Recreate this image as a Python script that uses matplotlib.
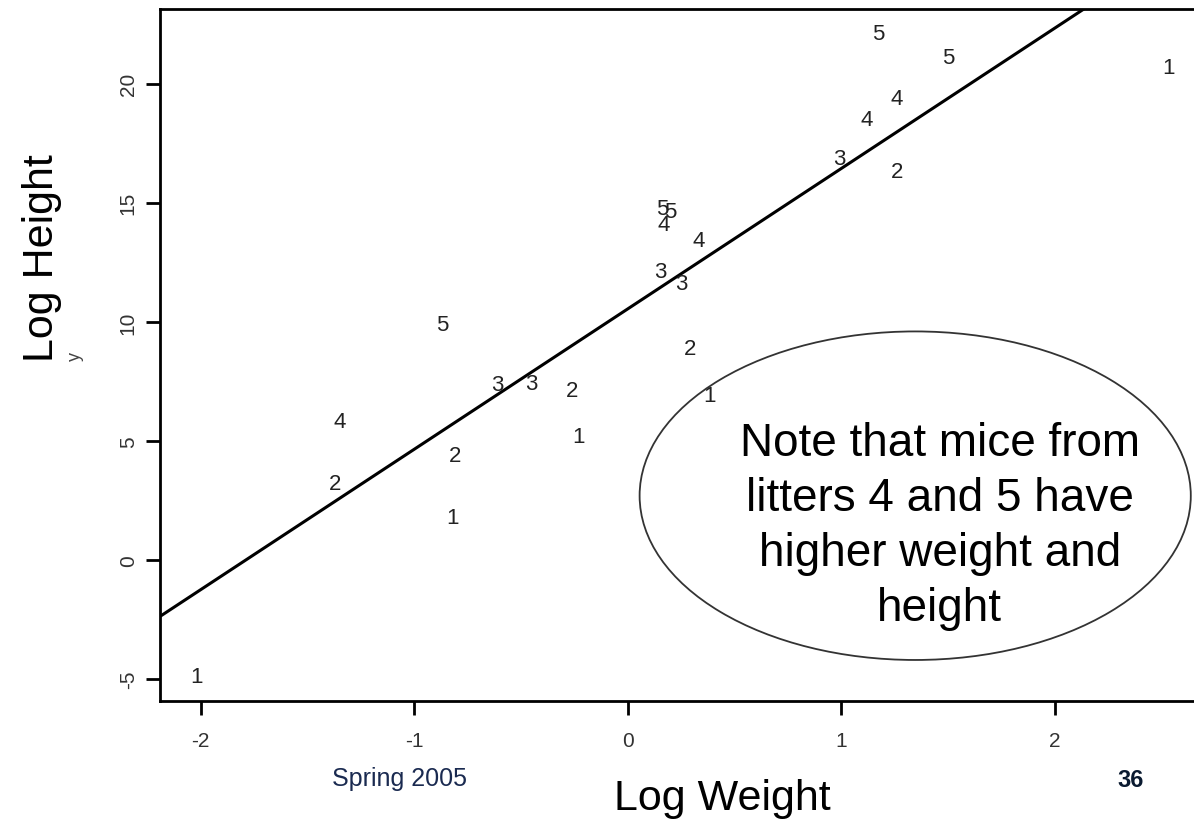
import matplotlib
matplotlib.use("Agg")
from matplotlib import pyplot as plt
from matplotlib.patches import Ellipse
import numpy as np

"""
Log height vs log weight of mice, points labelled by litter number,
with the overall fitted line and a note in an ellipse.
"""

# Points: litter label, log weight, log height
litter = ["1", "1", "2", "2", "4", "5", "3", "3", "2", "1",
          "2", "1", "3", "3", "4", "5", "5", "4",
          "3", "4", "4", "2", "5", "5", "1"]
log_weight = [-2.02, -0.82, -0.81, -1.37, -1.35, -0.87, -0.61, -0.45, -0.26, -0.23,
              0.29, 0.38, 0.15, 0.25, 0.33, 0.16, 0.20, 0.17,
              0.99, 1.12, 1.26, 1.26, 1.17, 1.50, 2.53]
log_height = [-4.9, 1.8, 4.4, 3.2, 5.8, 9.9, 7.35, 7.4, 7.1, 5.2,
              8.9, 6.9, 12.1, 11.6, 13.4, 14.75, 14.65, 14.1,
              16.85, 18.5, 19.4, 16.3, 22.1, 21.1, 20.7]

# fitted line
fit_intercept = 10.55
fit_slope = 5.9

x_ticks = [-2, -1, 0, 1, 2]
y_ticks = [-5, 0, 5, 10, 15, 20]

note = "Note that mice from\nlitters 4 and 5 have\nhigher weight and\nheight"


def main():
    plt.rcParams['font.family'] = ['Liberation Sans', 'DejaVu Sans']
    plt.rcParams['axes.unicode_minus'] = False

    fig = plt.figure(figsize=(11.94, 8.2), dpi=100)
    ax = fig.add_axes([0.134, 0.144, 0.866, 0.844])

    # litter numbers as plotting symbols
    for lab, x, y in zip(litter, log_weight, log_height):
        ax.text(x, y, lab, ha="center", va="center", fontsize=16, color="#222222",
                zorder=5)

    # fitted line
    x_bf = np.linspace(-2.3, 2.7, 100)
    ax.plot(x_bf, fit_intercept + fit_slope * x_bf, color="black", lw=2.2)

    ax.set_xlim(-2.19, 2.65)
    ax.set_ylim(-5.92, 23.15)

    # note in an ellipse
    ell = Ellipse((1.345, 2.7), 2.58, 13.8, facecolor="none",
                  edgecolor="#333333", lw=1.3, zorder=3)
    ax.add_patch(ell)
    ax.text(1.46, 1.45, note, ha="center", va="center", fontsize=33,
            linespacing=1.33, color="black", zorder=4)

    # R-style frame: no right side visible
    ax.spines["right"].set_visible(False)
    for s in ["left", "bottom", "top"]:
        ax.spines[s].set_linewidth(2)
    ax.set_xticks(x_ticks)
    ax.set_yticks(y_ticks)
    ax.tick_params(length=10, width=2, labelsize=15, labelcolor="#333333", pad=12)
    ax.tick_params(axis="y", pad=6)
    plt.setp(ax.get_yticklabels(), rotation=90, va="center")

    fig.text(0.035, 0.685, "Log Height", rotation=90, ha="center", va="center", fontsize=31)
    fig.text(0.063, 0.565, "y", rotation=90, ha="center", va="center", fontsize=13, color="#444444")
    fig.text(0.605, 0.025, "Log Weight", ha="center", va="center", fontsize=31)
    fig.text(0.335, 0.05, "Spring 2005", ha="center", va="center", fontsize=18, color="#1a2a50")
    fig.text(0.947, 0.048, "36", ha="center", va="center", fontsize=17, fontweight="bold",
             color="#0a1a30")

    fig.savefig("out.png", dpi=100)


if __name__ == '__main__':
    main()
